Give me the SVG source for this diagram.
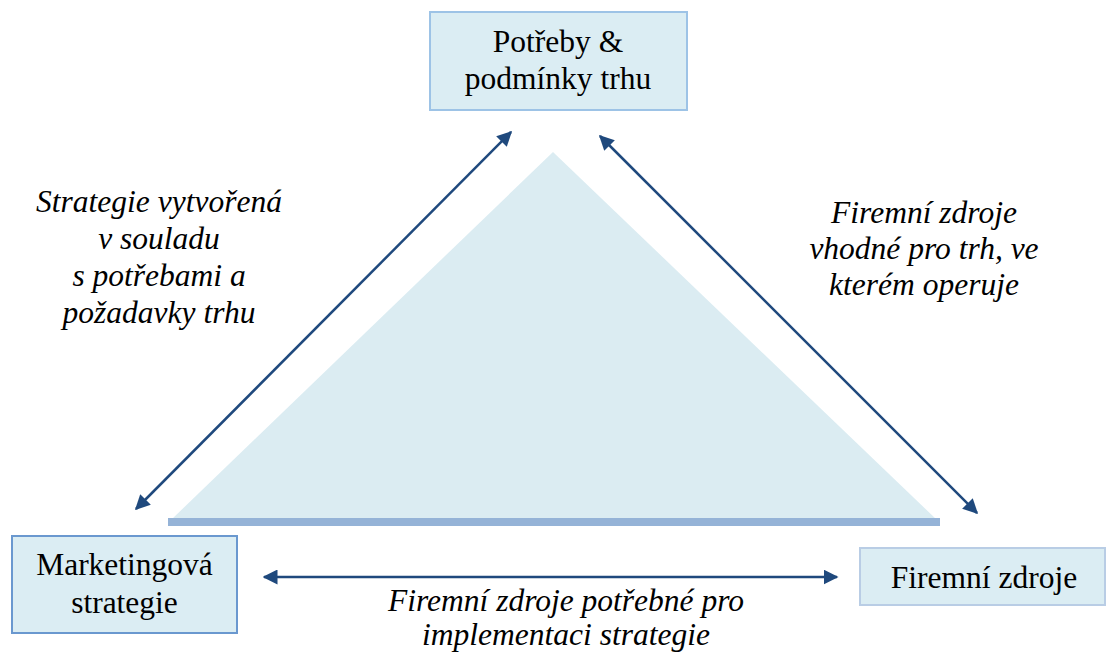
<svg xmlns="http://www.w3.org/2000/svg" width="1106" height="661" viewBox="0 0 1106 661">
  <style>
    .box { fill: #dbedf3; stroke-width: 2; }
    .lbl { font-family: "Liberation Serif", "Times New Roman", serif; font-size: 31.5px; fill: #000; text-anchor: middle; }
    .note { font-family: "Liberation Serif", "Times New Roman", serif; font-size: 31.5px; font-style: italic; fill: #000; text-anchor: middle; }
    .conn { stroke: #1f497d; stroke-width: 2.5; fill: none; marker-start: url(#head); marker-end: url(#head); }
  </style>
  <defs>
    <marker id="head" viewBox="0 0 10 10" refX="9" refY="5" markerWidth="6" markerHeight="6" orient="auto-start-reverse" markerUnits="strokeWidth">
      <path d="M0,0 L10,5 L0,10 z" fill="#1f497d"/>
    </marker>
  </defs>

  <rect width="1106" height="661" fill="#ffffff"/>

  <!-- central triangle with its base bar -->
  <g id="triangle">
    <polygon points="553,152 172,519 936,519" fill="#dbecf2"/>
    <rect x="168" y="518" width="772" height="8" fill="#95b3d7"/>
  </g>

  <g id="node-market">
    <rect class="box" x="430" y="12" width="257" height="98" stroke="#9dc3e6"/>
    <text class="lbl" x="558" y="52">Potřeby &amp;</text>
    <text class="lbl" x="558" y="89">podmínky trhu</text>
  </g>

  <g id="node-strategy">
    <rect class="box" x="12" y="536" width="225" height="97" stroke="#6a98cf"/>
    <text class="lbl" x="124.5" y="575">Marketingová</text>
    <text class="lbl" x="124.5" y="613">strategie</text>
  </g>

  <g id="node-resources">
    <rect class="box" x="860" y="548" width="245" height="57" stroke="#b9cde5"/>
    <text class="lbl" x="984" y="588">Firemní zdroje</text>
  </g>

  <g id="connectors">
    <line class="conn" x1="136" y1="509" x2="511" y2="132"/>
    <line class="conn" x1="600" y1="136" x2="977" y2="513"/>
    <line class="conn" x1="264" y1="577" x2="837" y2="577"/>
  </g>

  <g id="notes">
    <text class="note" x="159" y="212">Strategie vytvořená</text>
    <text class="note" x="159" y="249">v souladu</text>
    <text class="note" x="159" y="286">s potřebami a</text>
    <text class="note" x="159" y="323">požadavky trhu</text>

    <text class="note" x="924" y="223">Firemní zdroje</text>
    <text class="note" x="924" y="259">vhodné pro trh, ve</text>
    <text class="note" x="924" y="295">kterém operuje</text>

    <text class="note" x="566" y="611">Firemní zdroje potřebné pro</text>
    <text class="note" x="566" y="645">implementaci strategie</text>
  </g>
</svg>
